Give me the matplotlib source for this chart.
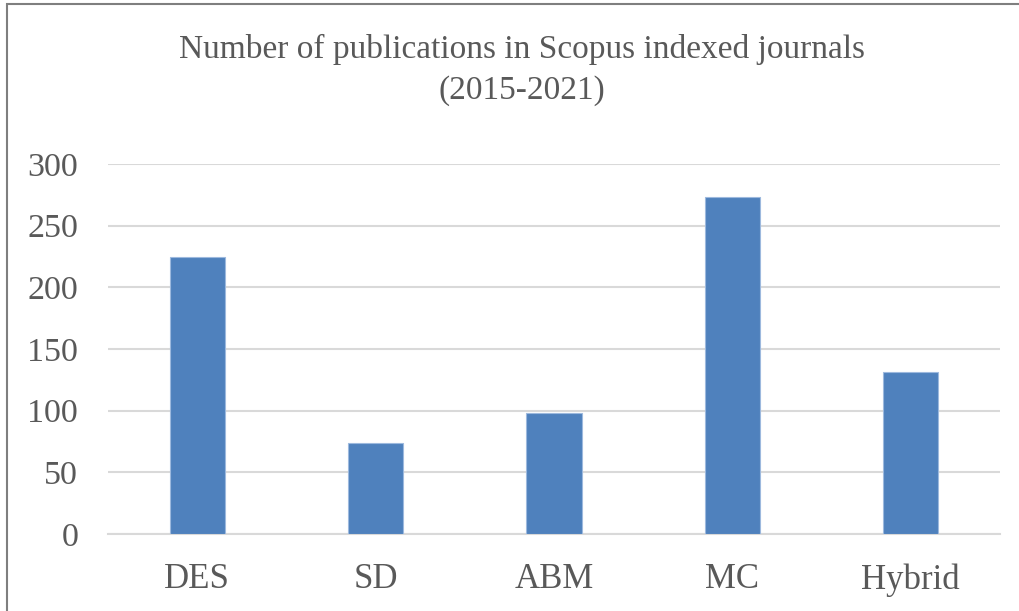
import matplotlib
matplotlib.use("Agg")
import matplotlib.pyplot as plt
from matplotlib.patches import Rectangle

categories = ["DES", "SD", "ABM", "MC", "Hybrid"]
values = [225, 74, 98, 273, 131]
yticks = [0, 50, 100, 150, 200, 250, 300]
title = "Number of publications in Scopus indexed journals\n(2015-2021)"

W, H = 1019, 611
fig = plt.figure(figsize=(W / 100, H / 100), dpi=100)
fig.patch.set_facecolor("white")

# plot area in pixels: left 108, right 1000, top 164, bottom 534
ax = fig.add_axes([108 / W, 1 - 534 / H, (1000 - 108) / W, (534 - 164) / H])

x = list(range(len(categories)))
ax.bar(x, values, width=0.31, color="#4F81BD", edgecolor="#9DB9DE", linewidth=0.8, zorder=3)

ax.set_xlim(-0.5, len(categories) - 0.5)
ax.set_ylim(0, 300)
ax.set_yticks(yticks)
ax.set_xticks(x)

font = "Liberation Serif"
ax.set_yticklabels([str(t) for t in yticks], fontsize=24.5, family=font, color="#595959")
ax.set_xticklabels(categories, fontsize=25, family=font, color="#595959")
ax.tick_params(axis="both", length=0)
ax.tick_params(axis="y", pad=21.5)
ax.tick_params(axis="x", pad=21)

ax.grid(axis="y", color="#D9D9D9", linewidth=1.5, zorder=0)
for s in ["top", "right", "left"]:
    ax.spines[s].set_visible(False)
ax.spines["bottom"].set_color("#D9D9D9")
ax.spines["bottom"].set_linewidth(1.5)

fig.text(522 / W, 1 - 70 / H, title, ha="center", va="center", fontsize=24,
         family=font, color="#595959", linespacing=1.42)

# outer border (left and top visible)
fig.add_artist(Rectangle((7 / W, -0.1), 1.2, 1 - 4 / H + 0.1, transform=fig.transFigure,
                         fill=False, edgecolor="#7F7F7F", linewidth=1.5))

fig.savefig("out.png", dpi=100)
